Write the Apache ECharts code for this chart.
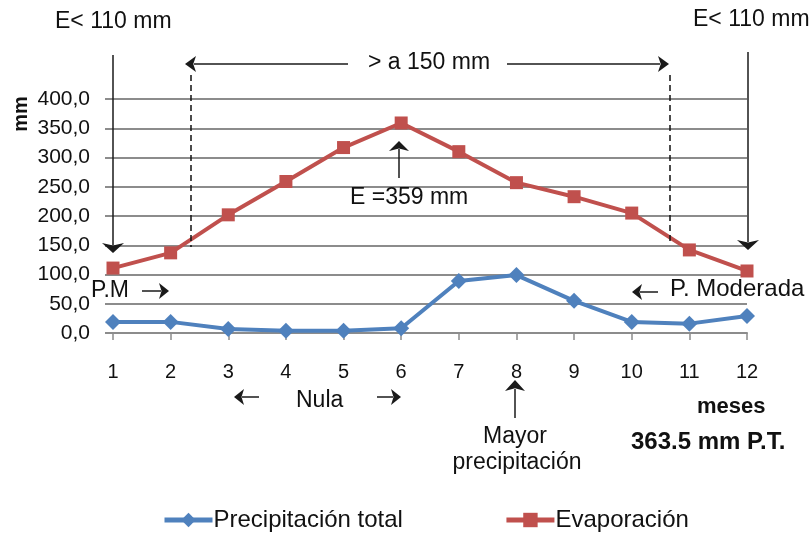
<!DOCTYPE html>
<html>
<head>
<meta charset="utf-8">
<script src="https://cdn.jsdelivr.net/npm/echarts@6/dist/echarts.min.js"></script>
<style>
html,body{margin:0;padding:0;background:#fff;}
#chart{width:812px;height:533px;}
</style>
</head>
<body>
<div id="chart"></div>
<script>
var months = ['1','2','3','4','5','6','7','8','9','10','11','12'];
var precipitacion = [19, 19, 7, 4, 4, 8, 89, 99, 55, 19, 16, 29];
var evaporacion = [111, 137, 202, 259, 317, 359, 310, 257, 233, 205, 142, 106];
var yTicks = {min: 0, max: 400, interval: 50};

var FONT = '"Liberation Sans", Arial, sans-serif';
var chart = echarts.init(document.getElementById('chart'));

function arrow(x1, y1, x2, y2, hl, hw, lw) {
  var dx = x2 - x1, dy = y2 - y1;
  var L = Math.sqrt(dx*dx + dy*dy);
  var ux = dx / L, uy = dy / L;
  var bx = x2 - ux*hl, by = y2 - uy*hl;
  var px = -uy, py = ux;
  return [
    {type:'line', shape:{x1:x1,y1:y1,x2:bx+ux*2,y2:by+uy*2}, style:{stroke:'#1a1a1a', lineWidth: lw || 1.5}, z:100},
    {type:'polygon', shape:{points:[[x2,y2],[bx+px*hw/2,by+py*hw/2],[bx+ux*hl*0.25,by+uy*hl*0.25],[bx-px*hw/2,by-py*hw/2]]}, style:{fill:'#1a1a1a'}, z:100}
  ];
}
function txt(x, y, s, size, opts) {
  opts = opts || {};
  return {type:'text', x:x, y:y, rotation: opts.rot || 0, z:100,
    style:{text:s, font:(opts.bold?'bold ':'') + size + 'px ' + FONT, fill:'#111',
      textAlign: opts.align || 'left', textVerticalAlign:'middle'}};
}
function dashed(x, y1, y2) {
  return {type:'line', shape:{x1:x,y1:y1,x2:x,y2:y2}, style:{stroke:'#111', lineWidth:1.5, lineDash:[6,4]}, z:100};
}

var g = [];
g.push(txt(55, 22, 'E< 110 mm', 23));
g.push(txt(693, 20, 'E< 110 mm', 23));
g = g.concat(arrow(113, 55, 113, 253, 10, 22, 1.5));
g = g.concat(arrow(748, 52, 748, 250, 10, 22, 1.5));
g.push(dashed(191, 75, 247));
g.push(dashed(670, 75, 245));
g = g.concat(arrow(348, 64, 185, 64, 11, 16, 1.5));
g = g.concat(arrow(507, 64, 669, 64, 11, 16, 1.5));
g.push(txt(368, 63, '> a 150 mm', 23));
g = g.concat(arrow(399, 178, 399, 141, 10, 20, 1.5));
g.push(txt(350, 198, 'E =359 mm', 23));
g.push(txt(91, 291, 'P.M', 23));
g = g.concat(arrow(142, 291, 169, 291, 10, 16, 1.5));
g = g.concat(arrow(658, 292, 632, 292, 10, 16, 1.5));
g.push(txt(670, 289, 'P. Moderada', 24));
g = g.concat(arrow(259, 397, 234, 397, 10, 16, 1.5));
g.push(txt(296, 401, 'Nula', 23));
g = g.concat(arrow(377, 397, 401, 397, 10, 16, 1.5));
g = g.concat(arrow(515, 418, 515, 380, 11, 20, 1.5));
g.push(txt(515, 437, 'Mayor', 23, {align:'center'}));
g.push(txt(517, 463, 'precipitación', 23, {align:'center'}));
g.push(txt(697, 407, 'meses', 22, {bold:true}));
g.push(txt(631, 442, '363.5 mm P.T.', 24, {bold:true}));
g.push(txt(21, 114, 'mm', 20, {bold:true, rot:Math.PI/2, align:'center'}));

chart.setOption({
  animation: false,
  backgroundColor: '#fff',
  grid: {left: 113, right: 65, top: 99, bottom: 200, containLabel: false},
  legend: {
    left: 157, top: 503, itemGap: 101, itemWidth: 48, itemHeight: 18,
    lineStyle: {width: 5},
    textStyle: {fontSize: 24, fontFamily: FONT, color: '#111', padding:[0,0,0,-4]},
    data: ['Precipitación total', 'Evaporación']
  },
  xAxis: {
    type: 'category', data: months, boundaryGap: false,
    axisLine: {lineStyle: {color: '#8c8c8c', width: 2}},
    axisTick: {show: true, length: 7, alignWithLabel: true, lineStyle: {color: '#8c8c8c', width: 1.5}},
    axisLabel: {fontSize: 20, fontFamily: FONT, color: '#111', margin: 29},
    splitLine: {show: false}
  },
  yAxis: {
    type: 'value', min: yTicks.min, max: yTicks.max, interval: yTicks.interval,
    axisLine: {show: false},
    axisTick: {show: true, length: 8, lineStyle: {color: '#8c8c8c', width: 2}},
    axisLabel: {fontSize: 21, fontFamily: FONT, color: '#111', margin: 23,
      formatter: function(v){ return v.toFixed(1).replace('.', ','); }},
    splitLine: {lineStyle: {color: '#8c8c8c', width: 2}}
  },
  series: [
    {name: 'Precipitación total', type: 'line', data: precipitacion,
     symbol: 'diamond', symbolSize: 16, showAllSymbol: true,
     lineStyle: {color: '#4F81BD', width: 4}, itemStyle: {color: '#4F81BD'}, z: 5},
    {name: 'Evaporación', type: 'line', data: evaporacion,
     symbol: 'rect', symbolSize: 13, showAllSymbol: true,
     lineStyle: {color: '#C0504D', width: 4}, itemStyle: {color: '#C0504D'}, z: 5}
  ],
  graphic: g
});
</script>
</body>
</html>
